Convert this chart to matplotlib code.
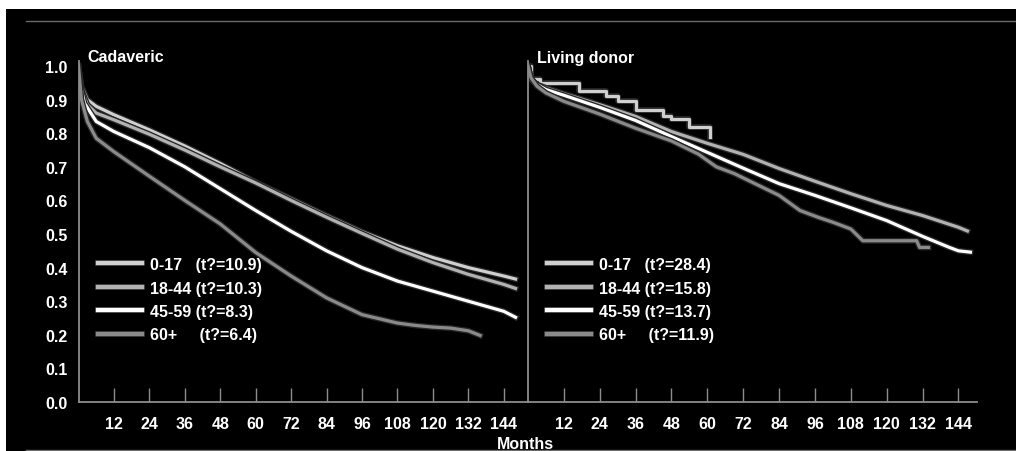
import matplotlib
matplotlib.use("Agg")
import matplotlib.pyplot as plt
import matplotlib.patheffects as pe
from matplotlib.patches import Rectangle
from matplotlib.lines import Line2D

plt.rcParams['font.family'] = ['Liberation Sans', 'DejaVu Sans']
plt.rcParams['font.weight'] = 'bold'

groups = ["0-17   (t?=10.9)", "18-44 (t?=10.3)", "45-59 (t?=8.3)", "60+     (t?=6.4)"]
groups_ld = ["0-17   (t?=28.4)", "18-44 (t?=15.8)", "45-59 (t?=13.7)", "60+     (t?=11.9)"]
colors = ["#cfcfcf", "#b2b2b2", "#ffffff", "#8a8a8a"]

# cadaveric survival (months, fraction)
cad_m_017 = [0, 1, 3, 6, 12, 24, 36, 48, 60, 72, 84, 96, 108, 120, 132, 144, 148]
cad_s_017 = [1.0, 0.94, 0.90, 0.88, 0.855, 0.81, 0.762, 0.71, 0.655, 0.605, 0.555, 0.507, 0.465, 0.43, 0.40, 0.375, 0.366]
cad_m_1844 = [0, 1, 3, 6, 12, 24, 36, 48, 60, 72, 84, 96, 108, 120, 132, 144, 148]
cad_s_1844 = [1.0, 0.93, 0.885, 0.86, 0.84, 0.797, 0.75, 0.70, 0.652, 0.60, 0.55, 0.502, 0.455, 0.415, 0.38, 0.35, 0.338]
cad_m_4559 = [0, 1, 2, 6, 12, 24, 36, 48, 60, 72, 84, 96, 108, 120, 132, 144, 148]
cad_s_4559 = [1.0, 0.93, 0.89, 0.835, 0.805, 0.757, 0.70, 0.635, 0.57, 0.508, 0.45, 0.40, 0.36, 0.33, 0.30, 0.27, 0.252]
cad_m_60 = [0, 1, 3, 6, 12, 24, 36, 48, 60, 72, 84, 96, 108, 114, 120, 126, 132, 136]
cad_s_60 = [1.0, 0.90, 0.835, 0.785, 0.745, 0.672, 0.60, 0.53, 0.445, 0.375, 0.31, 0.26, 0.235, 0.228, 0.223, 0.22, 0.212, 0.198]

# living donor survival
liv_m_017 = [0, 1, 4, 17, 26, 30, 36, 45, 48, 54, 61]
liv_s_017 = [1.0, 0.96, 0.95, 0.925, 0.91, 0.897, 0.87, 0.852, 0.842, 0.82, 0.788]
liv_m_1844 = [0, 1, 3, 6, 12, 24, 36, 48, 60, 72, 84, 96, 108, 120, 132, 144, 147]
liv_s_1844 = [1.0, 0.96, 0.945, 0.935, 0.918, 0.885, 0.85, 0.805, 0.77, 0.737, 0.695, 0.657, 0.62, 0.585, 0.555, 0.52, 0.509]
liv_m_4559 = [0, 1, 3, 6, 12, 24, 36, 48, 60, 72, 84, 96, 108, 120, 132, 141, 144, 148]
liv_s_4559 = [1.0, 0.96, 0.945, 0.93, 0.913, 0.877, 0.838, 0.79, 0.743, 0.696, 0.65, 0.615, 0.578, 0.54, 0.493, 0.46, 0.45, 0.446]
liv_m_60 = [0, 1, 3, 6, 12, 24, 36, 48, 57, 63, 69, 72, 84, 91, 97, 102, 108, 112, 130, 131, 134]
liv_s_60 = [1.0, 0.965, 0.94, 0.92, 0.895, 0.857, 0.815, 0.777, 0.738, 0.70, 0.68, 0.667, 0.615, 0.57, 0.55, 0.535, 0.515, 0.48, 0.48, 0.46, 0.46]

xticks = [12, 24, 36, 48, 60, 72, 84, 96, 108, 120, 132, 144]
yticks = [0.0, 0.1, 0.2, 0.3, 0.4, 0.5, 0.6, 0.7, 0.8, 0.9, 1.0]

W, H = 1016, 452
fig = plt.figure(figsize=(W / 100, H / 100), dpi=100, facecolor="white")
fig.patches.append(Rectangle((6 / W, 0), 1, 1 - 10 / H, transform=fig.transFigure,
                             facecolor="black", edgecolor="none", zorder=-10))
fig.add_artist(Line2D([26 / W, 1], [1 - 22 / H, 1 - 22 / H], color="#6a6a6a", lw=1))
fig.add_artist(Line2D([26 / W, 1], [1 - 450.5 / H, 1 - 450.5 / H], color="#6a6a6a", lw=1))

ax1 = fig.add_axes([78.5 / W, 1 - 403 / H, 449.5 / W, 341 / H])
ax2 = fig.add_axes([528 / W, 1 - 403 / H, 449 / W, 341 / H])

outline = [pe.Stroke(linewidth=4.2, foreground="#262626"), pe.Normal()]

def style(ax, xmax):
    ax.set_facecolor("none")
    ax.set_xlim(0, xmax)
    ax.set_ylim(0, 1.015)
    for s in ["top", "right"]:
        ax.spines[s].set_visible(False)
    for s in ["left", "bottom"]:
        ax.spines[s].set_color("#8c8c8c")
        ax.spines[s].set_linewidth(1.3)
    ax.set_xticks(xticks)
    ax.set_xticklabels([str(t) for t in xticks])
    ax.tick_params(axis="x", direction="in", length=10, width=1, color="#8c8c8c",
                   pad=10, labelcolor="white", labelsize=11.5)
    ax.set_yticks(yticks)
    ax.tick_params(axis="y", length=0, pad=8, labelcolor="white", labelsize=11.5)

style(ax1, 152.2)
style(ax2, 150.2)
ax1.set_yticklabels(["%.1f" % v for v in yticks])
ax2.set_yticklabels([])

ax1.plot(cad_m_017, cad_s_017, color=colors[0], lw=2.3, label=groups[0], path_effects=outline)
ax1.plot(cad_m_1844, cad_s_1844, color=colors[1], lw=2.3, label=groups[1], path_effects=outline)
ax1.plot(cad_m_4559, cad_s_4559, color=colors[2], lw=2.3, label=groups[2], path_effects=outline)
ax1.plot(cad_m_60, cad_s_60, color=colors[3], lw=2.3, label=groups[3], path_effects=outline)

ax2.plot(liv_m_017, liv_s_017, color=colors[0], lw=2.3, drawstyle="steps-post", label=groups_ld[0], path_effects=outline)
ax2.plot(liv_m_1844, liv_s_1844, color=colors[1], lw=2.3, label=groups_ld[1], path_effects=outline)
ax2.plot(liv_m_4559, liv_s_4559, color=colors[2], lw=2.3, label=groups_ld[2], path_effects=outline)
ax2.plot(liv_m_60, liv_s_60, color=colors[3], lw=2.3, label=groups_ld[3], path_effects=outline)

for ax, x0 in [(ax1, 0.0434), (ax2, 0.0423)]:
    leg = ax.legend(loc="upper left", bbox_to_anchor=(x0, 0.425), frameon=False,
                    fontsize=11.5, handlelength=2.75, handletextpad=0.5,
                    labelspacing=0.53, borderpad=0, borderaxespad=0)
    for t in leg.get_texts():
        t.set_color("white")
    for h in leg.get_lines():
        h.set_linewidth(3.2)

ax1.text(0.019, 1.012, "Cadaveric", transform=ax1.transAxes, color="white",
         fontsize=11.5, ha="left", va="center")
ax2.text(0.02, 1.009, "Living donor", transform=ax2.transAxes, color="white",
         fontsize=11.5, ha="left", va="center")
fig.text(525 / W, 1 - 444.5 / H, "Months", color="white", fontsize=11.5, ha="center", va="center")

fig.savefig("out.png", dpi=100, facecolor=fig.get_facecolor())
